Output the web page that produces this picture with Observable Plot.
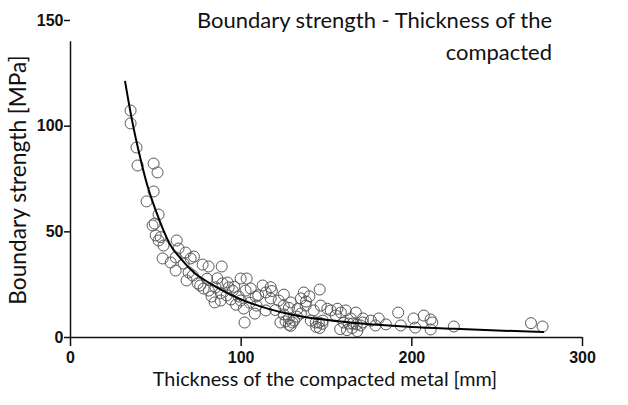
<!DOCTYPE html>
<html>
<head>
<meta charset="utf-8">
<script src="https://cdn.jsdelivr.net/npm/d3@7"></script>
<script src="https://cdn.jsdelivr.net/npm/@observablehq/plot@0.6"></script>
<style>
  html, body { margin: 0; padding: 0; background: #fff; }
  #wrap { position: relative; width: 628px; height: 405px; overflow: hidden; }
  .lbl { position: absolute; font-family: Lato, "Open Sans", sans-serif; color: #111; white-space: nowrap; }
</style>
</head>
<body>
<div id="wrap"></div>
<script>
// ---- data ----
const thickness = [35.2,35.2,38.7,39.3,48.7,51.0,48.7,44.6,51.6,48.1,49.9,51.6,54.5,54.0,62.2,63.3,61.6,58.7,61.6,67.4,
  70.4,66.3,69.2,71.6,68.0,77.4,80.9,88.6,74.5,78.0,82.7,84.5,81.0,85.0,89.0,92.7,95.0,91.5,88.0,99.7,
  103.2,102.6,105.6,98.5,101.5,102.0,99.7,108.5,112.6,114.4,117.3,109.0,114.4,122.0,125.0,124.9,129.0,124.9,127.9,126.0,
  123.0,132.6,130.0,135.0,136.7,137.8,135.0,142.5,146.0,146.6,140.8,143.7,145.5,147.8,152.5,155.4,158.4,161.3,164.2,167.2,
  160.0,163.0,165.4,167.7,170.0,171.3,171.3,176.0,180.6,178.7,184.8,192.0,193.5,201.0,207.0,211.0,212.0,202.0,211.0,224.6,
  269.8,276.6,76.0,80.0,86.0,92.0,96.0,88.0,94.0,97.0,105.0,110.0,118.0,120.0,108.0,128.0,133.0,138.0,140.0,117.3,
  150.5,156.4,131.0,147.6,128.0,129.0,144.0,146.0,158.0,162.0,165.0,168.0,72.3,52.8,49.3];
const strength = [107.4,101.3,89.9,81.4,82.3,78.1,69.1,64.4,58.2,53.0,48.3,45.9,43.5,37.4,45.9,42.1,37.9,35.5,31.7,40.2,
  37.4,35.0,30.8,29.3,27.0,34.5,33.6,33.6,25.6,23.2,19.4,16.6,22.2,23.7,25.6,23.7,22.2,19.9,17.5,27.9,
  27.9,22.2,23.2,19.4,13.7,7.1,17.5,19.4,24.6,21.3,18.5,15.1,12.8,17.5,20.3,15.1,16.6,10.9,9.0,7.6,
  7.1,9.9,7.1,18.5,21.3,15.1,11.4,12.8,22.7,15.1,8.0,7.1,7.1,8.0,12.8,10.4,11.8,12.8,9.0,11.8,
  7.1,6.6,6.6,6.2,5.7,7.1,9.0,8.0,9.0,5.7,6.2,11.8,5.7,9.0,10.4,8.5,7.1,4.7,3.8,5.2,
  6.8,5.2,24.6,27.8,28.0,26.0,24.0,21.0,18.0,15.5,16.5,20.0,22.0,13.0,11.3,14.0,13.5,17.0,19.5,23.8,
  13.6,13.6,8.0,6.5,6.0,5.5,5.0,4.5,4.0,3.5,4.5,3.0,38.3,47.5,53.9];

const fitThickness = [32,36,40,45,50,58,65,72,82,92,100,115,130,147,165,182,200,225,250,277];
const fitStrength  = [121,103,88,72,60,44.5,37,31,25.5,21,18,13.8,10.8,8.6,7.0,5.9,5.0,4.1,3.3,2.6];

const xTicks = [0, 100, 200, 300];
const yTicks = [0, 50, 100, 150];
const yAxisTop = 140;

const titleLines = ["Boundary strength - Thickness of the", "compacted"];
const xLabel = "Thickness of the compacted metal [mm]";
const yLabel = "Boundary strength [MPa]";

const points = thickness.map((t, i) => ({t, s: strength[i]}));
const fit = fitThickness.map((t, i) => ({t, s: fitStrength[i]}));

const chart = Plot.plot({
  width: 628,
  height: 405,
  marginLeft: 70,
  marginRight: 46,
  marginTop: 20,
  marginBottom: 68,
  style: {fontFamily: "'Liberation Sans', Arial, sans-serif", background: "#fff"},
  x: {domain: [0, 300]},
  y: {domain: [0, 150]},
  marks: [
    Plot.axisX({ticks: xTicks, tickSize: 9, tickPadding: 5, fontSize: 16, fontWeight: "bold", label: null, stroke: "#111", strokeWidth: 1.5, fill: "#111"}),
    Plot.axisY({ticks: yTicks, tickSize: 6, tickPadding: 1, fontSize: 16, fontWeight: "bold", label: null, stroke: "#111", strokeWidth: 1.5, fill: "#111"}),
    Plot.ruleY([0], {stroke: "#111", strokeWidth: 1.5}),
    Plot.ruleX([0], {y1: 0, y2: yAxisTop, stroke: "#111", strokeWidth: 1.5}),
    Plot.dot(points, {x: "t", y: "s", r: 5.5, fill: "none", stroke: "#555", strokeWidth: 1}),
    Plot.line(fit, {x: "t", y: "s", curve: "monotone-x", stroke: "#000", strokeWidth: 2})
  ]
});

const wrap = document.getElementById("wrap");
wrap.appendChild(chart);

// size a text so that its rendered width matches the width it has in the reference
const ctx = document.createElement("canvas").getContext("2d");
function fitSize(text, target) {
  ctx.font = "100px Lato";
  return 100 * target / ctx.measureText(text).width;
}

const titleSize = fitSize(titleLines[0], 357);
const t1 = document.createElement("div");
t1.className = "lbl";
t1.style.fontSize = titleSize + "px";
t1.style.lineHeight = "32px";
t1.style.right = "76px"; t1.style.top = "4px"; t1.style.textAlign = "right";
t1.innerHTML = titleLines.join("<br>");
wrap.appendChild(t1);

const xl = document.createElement("div");
xl.className = "lbl";
xl.style.fontSize = fitSize(xLabel, 345) + "px";
xl.style.lineHeight = "22px";
xl.style.left = "325px"; xl.style.top = "367px"; xl.style.transform = "translateX(-50%)";
xl.textContent = xLabel;
wrap.appendChild(xl);

const yl = document.createElement("div");
yl.className = "lbl";
yl.style.fontSize = fitSize(yLabel, 250) + "px";
yl.style.lineHeight = "24px";
yl.style.left = "18px"; yl.style.top = "180px"; yl.style.transform = "translate(-50%,-50%) rotate(-90deg)";
yl.textContent = yLabel;
wrap.appendChild(yl);
</script>
</body>
</html>
